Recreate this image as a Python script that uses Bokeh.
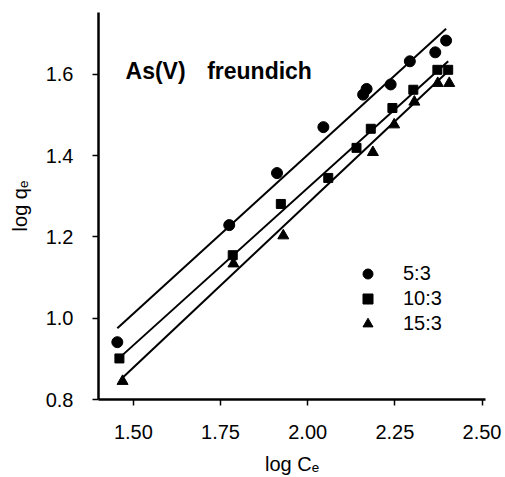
from bokeh.plotting import figure
from bokeh.models import Range1d, FixedTicker, NumeralTickFormatter, Legend, LegendItem, Label
from bokeh.embed import file_html
from bokeh.resources import INLINE

# data
x_53 = [1.454, 1.775, 1.912, 2.045, 2.159, 2.169, 2.238, 2.293, 2.366, 2.397]
y_53 = [0.941, 1.229, 1.357, 1.470, 1.550, 1.564, 1.575, 1.632, 1.654, 1.683]
x_103 = [1.460, 1.785, 1.923, 2.059, 2.140, 2.181, 2.243, 2.303, 2.372, 2.403]
y_103 = [0.901, 1.155, 1.281, 1.345, 1.419, 1.466, 1.517, 1.562, 1.611, 1.611]
x_153 = [1.469, 1.787, 1.930, 2.187, 2.248, 2.306, 2.373, 2.406]
y_153 = [0.845, 1.134, 1.203, 1.408, 1.476, 1.532, 1.578, 1.578]

# fitted Freundlich lines (start / end)
fit_53_x = [1.454, 2.397]
fit_53_y = [0.975, 1.712]
fit_103_x = [1.471, 2.403]
fit_103_y = [0.911, 1.632]
fit_153_x = [1.472, 2.408]
fit_153_y = [0.856, 1.612]

x_ticks = [1.50, 1.75, 2.00, 2.25, 2.50]
y_ticks = [0.8, 1.0, 1.2, 1.4, 1.6]
series_labels = ["5:3", "10:3", "15:3"]

FONT = "Liberation Sans"

p = figure(width=505, height=477, output_backend="svg", toolbar_location=None,
           x_range=Range1d(1.40, 2.51), y_range=Range1d(0.8, 1.752),
           min_border_left=98, min_border_right=20, min_border_top=12, min_border_bottom=77)
p.outline_line_color = None
p.xgrid.visible = False
p.ygrid.visible = False
p.background_fill_color = "white"
p.border_fill_color = "white"

for ax in (p.xaxis[0], p.yaxis[0]):
    ax.axis_line_width = 2.5
    ax.axis_line_color = "black"
    ax.major_tick_line_width = 1.5
    ax.major_tick_line_color = "black"
    ax.major_tick_out = 6
    ax.major_tick_in = 0
    ax.minor_tick_line_color = None
    ax.major_label_text_font = FONT
    ax.major_label_text_font_size = "20px"
    ax.major_label_text_color = "black"
    ax.axis_label_text_font = FONT
    ax.axis_label_text_font_size = "20px"
    ax.axis_label_text_font_style = "normal"
    ax.axis_label_text_color = "black"

p.xaxis.ticker = FixedTicker(ticks=x_ticks)
p.yaxis.ticker = FixedTicker(ticks=y_ticks)
p.xaxis.formatter = NumeralTickFormatter(format="0.00")
p.yaxis.formatter = NumeralTickFormatter(format="0.0")
p.xaxis.major_label_standoff = 19
p.yaxis.major_label_standoff = 19
p.xaxis.axis_label = "log C\u2091"
p.yaxis.axis_label = "log q\u2091"
p.xaxis.axis_label_standoff = 11
p.yaxis.axis_label_standoff = 12

lw = 2
p.line(fit_53_x, fit_53_y, line_color="black", line_width=lw)
p.line(fit_103_x, fit_103_y, line_color="black", line_width=lw)
p.line(fit_153_x, fit_153_y, line_color="black", line_width=lw)

r1 = p.scatter(x_53, y_53, marker="circle", size=11, fill_color="black", line_color="black")
r2 = p.scatter(x_103, y_103, marker="square", size=9, fill_color="black", line_color="black")
r3 = p.scatter(x_153, y_153, marker="triangle", size=11, fill_color="black", line_color="black")

legend = Legend(items=[LegendItem(label=series_labels[0], renderers=[r1]),
                       LegendItem(label=series_labels[1], renderers=[r2]),
                       LegendItem(label=series_labels[2], renderers=[r3])],
                location=(256, 63), padding=0, margin=0, spacing=0,
                glyph_width=27, glyph_height=25, label_height=25,
                label_standoff=22, border_line_color=None, background_fill_alpha=0,
                label_text_font=FONT, label_text_font_size="20px", label_text_color="black")
p.add_layout(legend)

p.add_layout(Label(x=1.4775, y=1.609, text="As(V)", text_font=FONT, text_font_size="23px",
                   text_font_style="bold", text_color="black", text_baseline="alphabetic"))
p.add_layout(Label(x=1.7116, y=1.609, text="freundich", text_font=FONT, text_font_size="23px",
                   text_font_style="bold", text_color="black", text_baseline="alphabetic"))

open("out.html", "w").write(file_html(p, INLINE))
